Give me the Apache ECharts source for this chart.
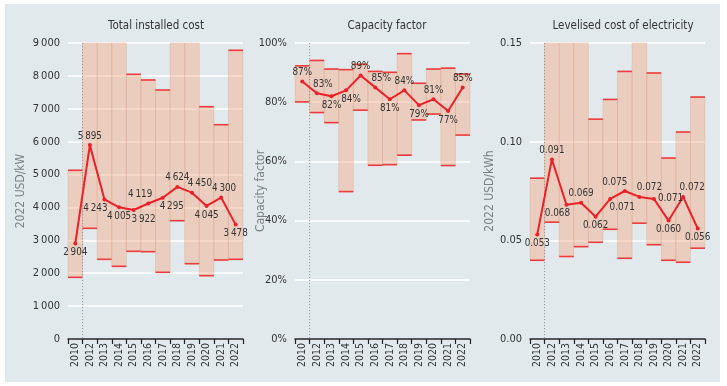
<!DOCTYPE html>
<html>
<head>
<meta charset="utf-8">
<script src="https://cdn.jsdelivr.net/npm/echarts@6/dist/echarts.min.js"></script>
<style>
  html, body { margin: 0; padding: 0; background: #ffffff; width: 727px; height: 386px; overflow: hidden; }
  #chart { position: absolute; left: 5px; top: 4px; width: 715px; height: 378px; background: #e2e9ed; }
</style>
</head>
<body>
<div id="chart"></div>
<script>
// ---------------- data ----------------
const years = ['2010','2012','2013','2014','2015','2016','2017','2018','2019','2020','2021','2022'];

// Total installed cost (2022 USD/kW)
const costAvg  = [2904, 5895, 4243, 4005, 3922, 4119, 4295, 4624, 4450, 4045, 4300, 3478];
const costLow  = [1875, 3365, 2423, 2210, 2666, 2655, 2028, 3597, 2290, 1925, 2402, 2423];
const costHigh = [5130, 9000, 9000, 9000, 8048, 7875, 7571, 9000, 9000, 7063, 6516, 8778];

// Capacity factor (%)
const cfAvg  = [87, 83, 82, 84, 89, 85, 81, 84, 79, 81, 77, 85];
const cfLow  = [80.1, 76.5, 73.1, 49.8, 77.3, 58.7, 58.9, 62.1, 74.0, 76.0, 58.6, 68.9];
const cfHigh = [92.3, 94.1, 91.2, 91.0, 92.8, 90.4, 90.1, 96.4, 86.4, 91.2, 91.5, 89.5];

// Levelised cost of electricity (2022 USD/kWh)
const lcoeAvg  = [0.053, 0.091, 0.068, 0.069, 0.062, 0.071, 0.075, 0.072, 0.071, 0.060, 0.072, 0.056];
const lcoeLow  = [0.0399, 0.0592, 0.0418, 0.0468, 0.0490, 0.0556, 0.0409, 0.0587, 0.0478, 0.0399, 0.0389, 0.0460];
const lcoeHigh = [0.0815, 0.15, 0.15, 0.15, 0.1114, 0.1214, 0.1356, 0.15, 0.1348, 0.0917, 0.1049, 0.1226];

// Axis ticks
const costTicks = { min: 0, max: 9000, interval: 1000 };
const cfTicks   = { min: 0, max: 100, interval: 20 };
const lcoeTicks = { min: 0, max: 0.15, interval: 0.05 };

// ---------------- label placement (style) ----------------
const costLabelPlace = [['bottom',0],['top',0],['bottom',-9],['bottom',0],['bottom',10],['top',-8],['bottom',9],['top',0],['top',8],['bottom',0],['top',3],['bottom',0]];
const cfLabelPlace   = [['top',0],['top',6],['bottom',0],['bottom',5],['top',0],['top',6],['bottom',0],['top',0],['bottom',0],['top',0],['bottom',0],['top',0]];
const lcoeLabelPlace = [['bottom',0],['top',0],['bottom',-9],['top',0],['bottom',0],['bottom',12],['top',-10],['top',10],['right',0],['bottom',0],['top',9],['bottom',0]];

// ---------------- styling ----------------
const RED = '#ec2027';
const BAND_FILL = 'rgba(246,168,128,0.42)';
const BAND_EDGE = 'rgba(214,150,120,0.28)';
const EDGE_RED = '#ee3b3b';
const TXT = '#333333';
const FONT = '"DejaVu Sans Condensed", "Liberation Sans", sans-serif';

function fmtThousands(v) {
  const s = String(Math.round(v));
  return s.replace(/\B(?=(\d{3})+(?!\d))/g, '\u2009');
}

function rangeRender(yMin, yMax) {
  return function (params, api) {
    const idx = api.value(0);
    const lo = api.value(1);
    const hi = api.value(2);
    const pLo = api.coord([idx, lo]);
    const pHi = api.coord([idx, Math.min(hi, yMax)]);
    const w = api.size([1, 0])[0];
    const x0 = pLo[0] - w / 2;
    const children = [{
      type: 'rect',
      shape: { x: x0, y: pHi[1], width: w, height: pLo[1] - pHi[1] },
      style: { fill: BAND_FILL, stroke: BAND_EDGE, lineWidth: 1 }
    }, {
      type: 'line',
      shape: { x1: x0, y1: pLo[1], x2: x0 + w, y2: pLo[1] },
      style: { stroke: EDGE_RED, lineWidth: 1.6 }
    }];
    if (hi < yMax) {
      children.push({
        type: 'line',
        shape: { x1: x0, y1: pHi[1], x2: x0 + w, y2: pHi[1] },
        style: { stroke: EDGE_RED, lineWidth: 1.6 }
      });
    }
    if (params.dataIndex === 0) {
      // dotted separator after the first category
      const pTop = api.coord([idx, yMax]);
      const pBot = api.coord([idx, yMin]);
      children.push({
        type: 'line',
        shape: { x1: x0 + w, y1: pTop[1], x2: x0 + w, y2: pBot[1] },
        style: { stroke: '#9a9a9a', lineWidth: 1, lineDash: [1.2, 1.8] },
        z2: 10
      });
    }
    return { type: 'group', children: children };
  };
}

function rangeData(low, high) {
  return low.map((v, i) => [i, v, high[i]]);
}

function lineData(avg, place, fmt) {
  return avg.map((v, i) => ({
    value: v,
    label: {
      position: place[i][0],
      offset: [place[i][1], 0],
      formatter: () => fmt(v)
    }
  }));
}

const panels = [
  { title: 'Total installed cost', titleX: 146, gridLeft: 63, name: '2022 USD/kW', nameGap: 41,
    ticks: costTicks, yFmt: v => fmtThousands(v),
    low: costLow, high: costHigh, avg: costAvg, place: costLabelPlace, lblFmt: v => fmtThousands(v) },
  { title: 'Capacity factor', titleX: 377, gridLeft: 290, name: 'Capacity factor', nameGap: 28,
    ticks: cfTicks, yFmt: v => Math.round(v) + '%',
    low: cfLow, high: cfHigh, avg: cfAvg, place: cfLabelPlace, lblFmt: v => Math.round(v) + '%' },
  { title: 'Levelised cost of electricity', titleX: 613, gridLeft: 525, name: '2022 USD/kWh', nameGap: 34,
    ticks: lcoeTicks, yFmt: v => v.toFixed(2),
    low: lcoeLow, high: lcoeHigh, avg: lcoeAvg, place: lcoeLabelPlace, lblFmt: v => v.toFixed(3) }
];

const option = {
  animation: false,
  textStyle: { fontFamily: FONT },
  title: panels.map(p => ({
    text: p.title, left: p.titleX, top: 11, textAlign: 'center',
    textStyle: { fontSize: 11.5, fontWeight: 'normal', color: TXT, fontFamily: FONT }
  })),
  grid: panels.map(p => ({ left: p.gridLeft, top: 39, width: 175, height: 296, containLabel: false })),
  xAxis: panels.map((p, i) => ({
    type: 'category', gridIndex: i, data: years, boundaryGap: true,
    axisLine: { show: true, lineStyle: { color: '#222', width: 1.5 } },
    axisTick: { show: true, interval: 0, length: 5, lineStyle: { color: '#222', width: 1.2 } },
    axisLabel: { interval: 0, rotate: 90, fontSize: 10.5, color: TXT, margin: 4, fontFamily: FONT },
    splitLine: { show: false }
  })),
  yAxis: panels.map((p, i) => ({
    type: 'value', gridIndex: i, min: p.ticks.min, max: p.ticks.max, interval: p.ticks.interval,
    name: p.name, nameLocation: 'middle', nameGap: p.nameGap, nameRotate: 90, nameMoveOverlap: false,
    nameTextStyle: { color: '#7b8085', fontSize: 12, fontFamily: FONT },
    axisLine: { show: false }, axisTick: { show: false },
    axisLabel: { fontSize: 11, color: TXT, margin: 8, formatter: p.yFmt, fontFamily: FONT },
    splitLine: { show: true, lineStyle: { color: '#ffffff', width: 1.5 } }
  })),
  series: [].concat(...panels.map((p, i) => [
    {
      type: 'custom', xAxisIndex: i, yAxisIndex: i,
      renderItem: rangeRender(p.ticks.min, p.ticks.max),
      encode: { x: 0, y: [1, 2] },
      data: rangeData(p.low, p.high), z: 2, silent: true
    },
    {
      type: 'line', xAxisIndex: i, yAxisIndex: i,
      data: lineData(p.avg, p.place, p.lblFmt),
      lineStyle: { color: RED, width: 2 },
      itemStyle: { color: RED },
      symbol: 'circle', symbolSize: 4, z: 5,
      label: { show: true, fontSize: 9.8, color: TXT, distance: 2, fontFamily: FONT }
    }
  ]))
};

const chart = echarts.init(document.getElementById('chart'), null, { renderer: 'canvas' });
chart.setOption(option);
</script>
</body>
</html>
